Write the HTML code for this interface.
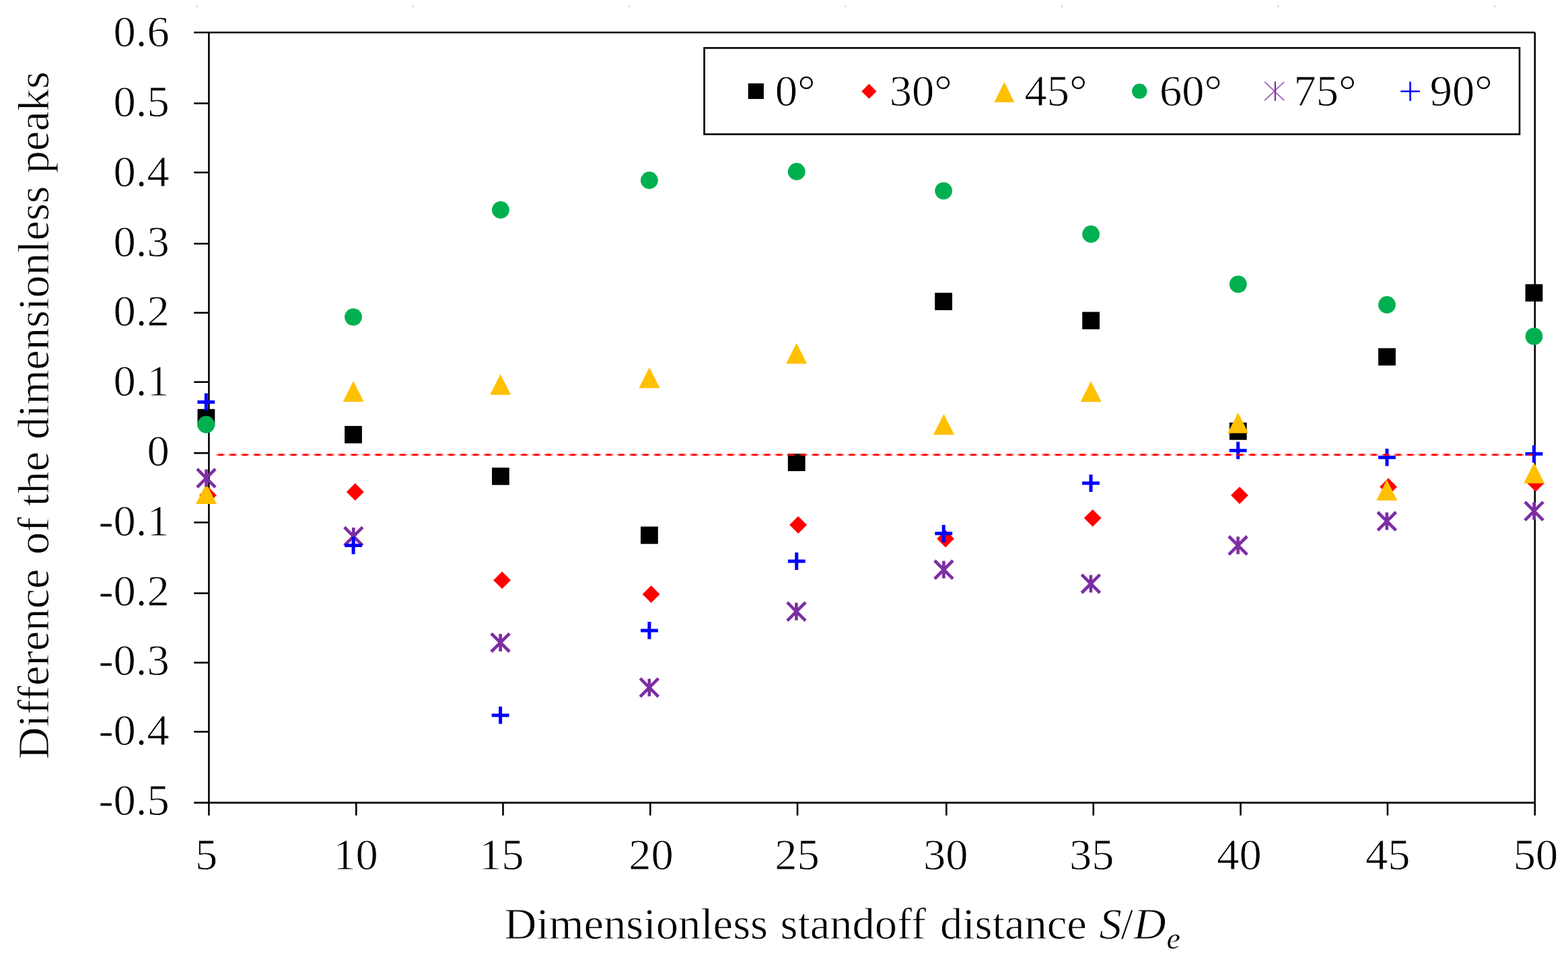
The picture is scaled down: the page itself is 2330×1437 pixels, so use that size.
<!DOCTYPE html>
<html><head><meta charset="utf-8"><title>Difference of the dimensionless peaks</title>
<style>html,body{margin:0;padding:0;background:#fff;}svg{display:block;}
text{font-family:"Liberation Serif", "Times New Roman", serif;fill:#000;stroke:#fff;stroke-width:0.8px;}</style></head><body>
<svg width="2330" height="1437" viewBox="0 0 2330 1437">
<rect x="290.9" y="8.1" width="3" height="2.7" fill="#d9dcdf"/>
<rect x="612.3" y="8.1" width="3" height="2.7" fill="#d9dcdf"/>
<rect x="933.7" y="8.1" width="3" height="2.7" fill="#d9dcdf"/>
<rect x="1255.1" y="8.1" width="3" height="2.7" fill="#d9dcdf"/>
<rect x="1576.5" y="8.1" width="3" height="2.7" fill="#d9dcdf"/>
<rect x="1897.9" y="8.1" width="3" height="2.7" fill="#d9dcdf"/>
<rect x="2219.3" y="8.1" width="3" height="2.7" fill="#d9dcdf"/>
<g stroke="#000" stroke-width="2.6" fill="none">
<path d="M310.4 48.2L310.4 1192.9"/>
<path d="M288.2 1192.9L2280.8 1192.9"/>
<path d="M288.2 48.2L2280.8 48.2"/>
<path d="M2280.8 48.2L2280.8 1192.9"/>
<path d="M288.2 153.6L310.4 153.6"/>
<path d="M288.2 256.3L310.4 256.3"/>
<path d="M288.2 362.1L310.4 362.1"/>
<path d="M288.2 464.8L310.4 464.8"/>
<path d="M288.2 567.7L310.4 567.7"/>
<path d="M288.2 673.3L310.4 673.3"/>
<path d="M288.2 776.4L310.4 776.4"/>
<path d="M288.2 881.6L310.4 881.6"/>
<path d="M288.2 984.7L310.4 984.7"/>
<path d="M288.2 1087.4L310.4 1087.4"/>
<path d="M310.4 1192.9L310.4 1211.8"/>
<path d="M529.3 1192.9L529.3 1211.8"/>
<path d="M747.5 1192.9L747.5 1211.8"/>
<path d="M966.3 1192.9L966.3 1211.8"/>
<path d="M1185 1192.9L1185 1211.8"/>
<path d="M1406.3 1192.9L1406.3 1211.8"/>
<path d="M1624.75 1192.9L1624.75 1211.8"/>
<path d="M1843.5 1192.9L1843.5 1211.8"/>
<path d="M2061.9 1192.9L2061.9 1211.8"/>
<path d="M2280.8 1192.9L2280.8 1211.8"/>
</g>
<text x="251.7" y="69.2" font-size="66.5" text-anchor="end">0.6</text>
<text x="251.7" y="173" font-size="66.5" text-anchor="end">0.5</text>
<text x="251.7" y="276.8" font-size="66.5" text-anchor="end">0.4</text>
<text x="251.7" y="380.6" font-size="66.5" text-anchor="end">0.3</text>
<text x="251.7" y="484.4" font-size="66.5" text-anchor="end">0.2</text>
<text x="251.7" y="588.2" font-size="66.5" text-anchor="end">0.1</text>
<text x="251.7" y="692" font-size="66.5" text-anchor="end">0</text>
<text x="251.7" y="795.8" font-size="66.5" text-anchor="end">-0.1</text>
<text x="251.7" y="899.6" font-size="66.5" text-anchor="end">-0.2</text>
<text x="251.7" y="1003.4" font-size="66.5" text-anchor="end">-0.3</text>
<text x="251.7" y="1107.2" font-size="66.5" text-anchor="end">-0.4</text>
<text x="251.7" y="1211" font-size="66.5" text-anchor="end">-0.5</text>
<text x="306.5" y="1292.3" font-size="66.5" text-anchor="middle">5</text>
<text x="528.6" y="1292.3" font-size="66.5" text-anchor="middle">10</text>
<text x="745.3" y="1292.3" font-size="66.5" text-anchor="middle">15</text>
<text x="967.5" y="1292.3" font-size="66.5" text-anchor="middle">20</text>
<text x="1184.5" y="1292.3" font-size="66.5" text-anchor="middle">25</text>
<text x="1405.3" y="1292.3" font-size="66.5" text-anchor="middle">30</text>
<text x="1622.15" y="1292.3" font-size="66.5" text-anchor="middle">35</text>
<text x="1841.4" y="1292.3" font-size="66.5" text-anchor="middle">40</text>
<text x="2062.2" y="1292.3" font-size="66.5" text-anchor="middle">45</text>
<text x="2282" y="1292.3" font-size="66.5" text-anchor="middle">50</text>
<text y="1395" font-size="66.5" xml:space="preserve"><tspan x="749.3">Dimensionless</tspan> <tspan x="1159.5">standoff</tspan> <tspan x="1396.9">distance</tspan> <tspan x="1633.5" font-style="italic">S</tspan><tspan x="1665.5">/</tspan><tspan x="1684.5" font-style="italic">D</tspan><tspan x="1733.5" font-style="italic" font-size="46" dy="14.6" style="stroke-width:0.3px">e</tspan></text>
<text transform="rotate(-90)" y="71.7" font-size="66.5" xml:space="preserve"><tspan x="-1128.6">Difference</tspan> <tspan x="-824">of</tspan> <tspan x="-752.3">the</tspan> <tspan x="-653.1">dimensionless</tspan> <tspan x="-257.6">peaks</tspan></text>
<rect x="293.5" y="607.8" width="25.8" height="25.8" fill="#000"/>
<rect x="512.1" y="633" width="25.8" height="25.8" fill="#000"/>
<rect x="731" y="694.9" width="25.8" height="25.8" fill="#000"/>
<rect x="952" y="782.5" width="25.8" height="25.8" fill="#000"/>
<rect x="1170.8" y="674.3" width="25.8" height="25.8" fill="#000"/>
<rect x="1389.2" y="435.1" width="25.8" height="25.8" fill="#000"/>
<rect x="1608.2" y="463.5" width="25.8" height="25.8" fill="#000"/>
<rect x="1826.9" y="627.9" width="25.8" height="25.8" fill="#000"/>
<rect x="2048.1" y="517.4" width="25.8" height="25.8" fill="#000"/>
<rect x="2266.6" y="422.3" width="25.8" height="25.8" fill="#000"/>
<path d="M309 723.1L321.9 736L309 748.9L296.1 736Z" fill="#FF0000"/>
<path d="M527.8 718.1L540.7 731L527.8 743.9L514.9 731Z" fill="#FF0000"/>
<path d="M746.1 849.3L759 862.2L746.1 875.1L733.2 862.2Z" fill="#FF0000"/>
<path d="M967.6 870.1L980.5 883L967.6 895.9L954.7 883Z" fill="#FF0000"/>
<path d="M1186.1 767.1L1199 780L1186.1 792.9L1173.2 780Z" fill="#FF0000"/>
<path d="M1405 787.6L1417.9 800.5L1405 813.4L1392.1 800.5Z" fill="#FF0000"/>
<path d="M1623.7 756.9L1636.6 769.8L1623.7 782.7L1610.8 769.8Z" fill="#FF0000"/>
<path d="M1842 723.2L1854.9 736.1L1842 749L1829.1 736.1Z" fill="#FF0000"/>
<path d="M2063.1 710.5L2076 723.4L2063.1 736.3L2050.2 723.4Z" fill="#FF0000"/>
<path d="M2282 705L2294.9 717.9L2282 730.8L2269.1 717.9Z" fill="#FF0000"/>
<path d="M306.5 718.25L322 748.95L291 748.95Z" fill="#FFC000"/>
<path d="M525.1 566.35L540.6 597.05L509.6 597.05Z" fill="#FFC000"/>
<path d="M743.6 555.95L759.1 586.65L728.1 586.65Z" fill="#FFC000"/>
<path d="M964.9 546.05L980.4 576.75L949.4 576.75Z" fill="#FFC000"/>
<path d="M1183.6 509.85L1199.1 540.55L1168.1 540.55Z" fill="#FFC000"/>
<path d="M1402.5 615.25L1418 645.95L1387 645.95Z" fill="#FFC000"/>
<path d="M1621.1 566.55L1636.6 597.25L1605.6 597.25Z" fill="#FFC000"/>
<path d="M1839.7 613.05L1855.2 643.75L1824.2 643.75Z" fill="#FFC000"/>
<path d="M2060.8 713.05L2076.3 743.75L2045.3 743.75Z" fill="#FFC000"/>
<path d="M2279.6 687.55L2295.1 718.25L2264.1 718.25Z" fill="#FFC000"/>
<circle cx="306.3" cy="631" r="12.9" fill="#00B050"/>
<circle cx="525" cy="471.1" r="12.9" fill="#00B050"/>
<circle cx="743.9" cy="312" r="12.9" fill="#00B050"/>
<circle cx="964.9" cy="268" r="12.9" fill="#00B050"/>
<circle cx="1183.7" cy="255" r="12.9" fill="#00B050"/>
<circle cx="1402.1" cy="283.6" r="12.9" fill="#00B050"/>
<circle cx="1621.1" cy="348" r="12.9" fill="#00B050"/>
<circle cx="1839.8" cy="422.4" r="12.9" fill="#00B050"/>
<circle cx="2061" cy="453" r="12.9" fill="#00B050"/>
<circle cx="2279.5" cy="499.8" r="12.9" fill="#00B050"/>
<path d="M292.9 696.9L320.1 724.1M320.1 696.9L292.9 724.1M306.5 697.5L306.5 723.5" stroke="#7D2DA4" stroke-width="4.6" fill="none"/>
<path d="M511.7 783.4L538.9 810.6M538.9 783.4L511.7 810.6M525.3 784L525.3 810" stroke="#7D2DA4" stroke-width="4.6" fill="none"/>
<path d="M730 941.3L757.2 968.5M757.2 941.3L730 968.5M743.6 941.9L743.6 967.9" stroke="#7D2DA4" stroke-width="4.6" fill="none"/>
<path d="M951.2 1008.1L978.4 1035.3M978.4 1008.1L951.2 1035.3M964.8 1008.7L964.8 1034.7" stroke="#7D2DA4" stroke-width="4.6" fill="none"/>
<path d="M1169.8 895.1L1197 922.3M1197 895.1L1169.8 922.3M1183.4 895.7L1183.4 921.7" stroke="#7D2DA4" stroke-width="4.6" fill="none"/>
<path d="M1388.8 833L1416 860.2M1416 833L1388.8 860.2M1402.4 833.6L1402.4 859.6" stroke="#7D2DA4" stroke-width="4.6" fill="none"/>
<path d="M1607.3 853.8L1634.5 881M1634.5 853.8L1607.3 881M1620.9 854.4L1620.9 880.4" stroke="#7D2DA4" stroke-width="4.6" fill="none"/>
<path d="M1826 797L1853.2 824.2M1853.2 797L1826 824.2M1839.6 797.6L1839.6 823.6" stroke="#7D2DA4" stroke-width="4.6" fill="none"/>
<path d="M2047.2 761L2074.4 788.2M2074.4 761L2047.2 788.2M2060.8 761.6L2060.8 787.6" stroke="#7D2DA4" stroke-width="4.6" fill="none"/>
<path d="M2266 745.9L2293.2 773.1M2293.2 745.9L2266 773.1M2279.6 746.5L2279.6 772.5" stroke="#7D2DA4" stroke-width="4.6" fill="none"/>
<path d="M293.4 597.4L319.2 597.4M306.3 584.5L306.3 610.3" stroke="#0000FF" stroke-width="5.0" fill="none"/>
<path d="M512.2 810.6L538 810.6M525.1 797.7L525.1 823.5" stroke="#0000FF" stroke-width="5.0" fill="none"/>
<path d="M730.7 1062.9L756.5 1062.9M743.6 1050L743.6 1075.8" stroke="#0000FF" stroke-width="5.0" fill="none"/>
<path d="M952 936.9L977.8 936.9M964.9 924L964.9 949.8" stroke="#0000FF" stroke-width="5.0" fill="none"/>
<path d="M1170.8 834L1196.6 834M1183.7 821.1L1183.7 846.9" stroke="#0000FF" stroke-width="5.0" fill="none"/>
<path d="M1389.3 792.8L1415.1 792.8M1402.2 779.9L1402.2 805.7" stroke="#0000FF" stroke-width="5.0" fill="none"/>
<path d="M1608.1 718.1L1633.9 718.1M1621 705.2L1621 731" stroke="#0000FF" stroke-width="5.0" fill="none"/>
<path d="M1826.8 669.4L1852.6 669.4M1839.7 656.5L1839.7 682.3" stroke="#0000FF" stroke-width="5.0" fill="none"/>
<path d="M2048.1 679.7L2073.9 679.7M2061 666.8L2061 692.6" stroke="#0000FF" stroke-width="5.0" fill="none"/>
<path d="M2266.6 674.6L2292.4 674.6M2279.5 661.7L2279.5 687.5" stroke="#0000FF" stroke-width="5.0" fill="none"/>
<path d="M321.5 675.8L2277.5 675.8" stroke="#FF0000" stroke-width="2.8" stroke-opacity="0.45" stroke-dasharray="12.9 5.138" fill="none"/>
<path d="M324.1 675.8L2277.5 675.8" stroke="#FF0000" stroke-width="2.8" stroke-dasharray="7.7 10.338" fill="none"/>
<rect x="1046.5" y="71.3" width="1211.5" height="128.2" fill="#fff" stroke="#000" stroke-width="2.6"/>
<rect x="1111.7" y="123.9" width="23.2" height="23.2" fill="#000"/>
<path d="M1291.4 124.6L1302.5 135.7L1291.4 146.8L1280.3 135.7Z" fill="#FF0000"/>
<path d="M1492.4 122L1507.4 152L1477.4 152Z" fill="#FFC000"/>
<circle cx="1693.3" cy="135.6" r="11.25" fill="#00B050"/>
<path d="M1879.3 121.6L1908.2 149.3M1908.2 121.6L1879.3 149.3" stroke="#7D2DA4" stroke-width="2" stroke-opacity="0.7" fill="none"/>
<path d="M1894.9 121.2L1894.9 149.9" stroke="#7D2DA4" stroke-width="2.2" fill="none"/>
<path d="M2081.3 135.8L2109.9 135.8M2095.6 121.5L2095.6 150.1" stroke="#0000FF" stroke-width="2.6" fill="none"/>
<text x="1151.8" y="157" font-size="66.5">0°</text>
<text x="1321.8" y="157" font-size="66.5">30°</text>
<text x="1522.5" y="157" font-size="66.5">45°</text>
<text x="1723" y="157" font-size="66.5">60°</text>
<text x="1922.6" y="157" font-size="66.5">75°</text>
<text x="2124.7" y="157" font-size="66.5">90°</text>
</svg></body></html>
